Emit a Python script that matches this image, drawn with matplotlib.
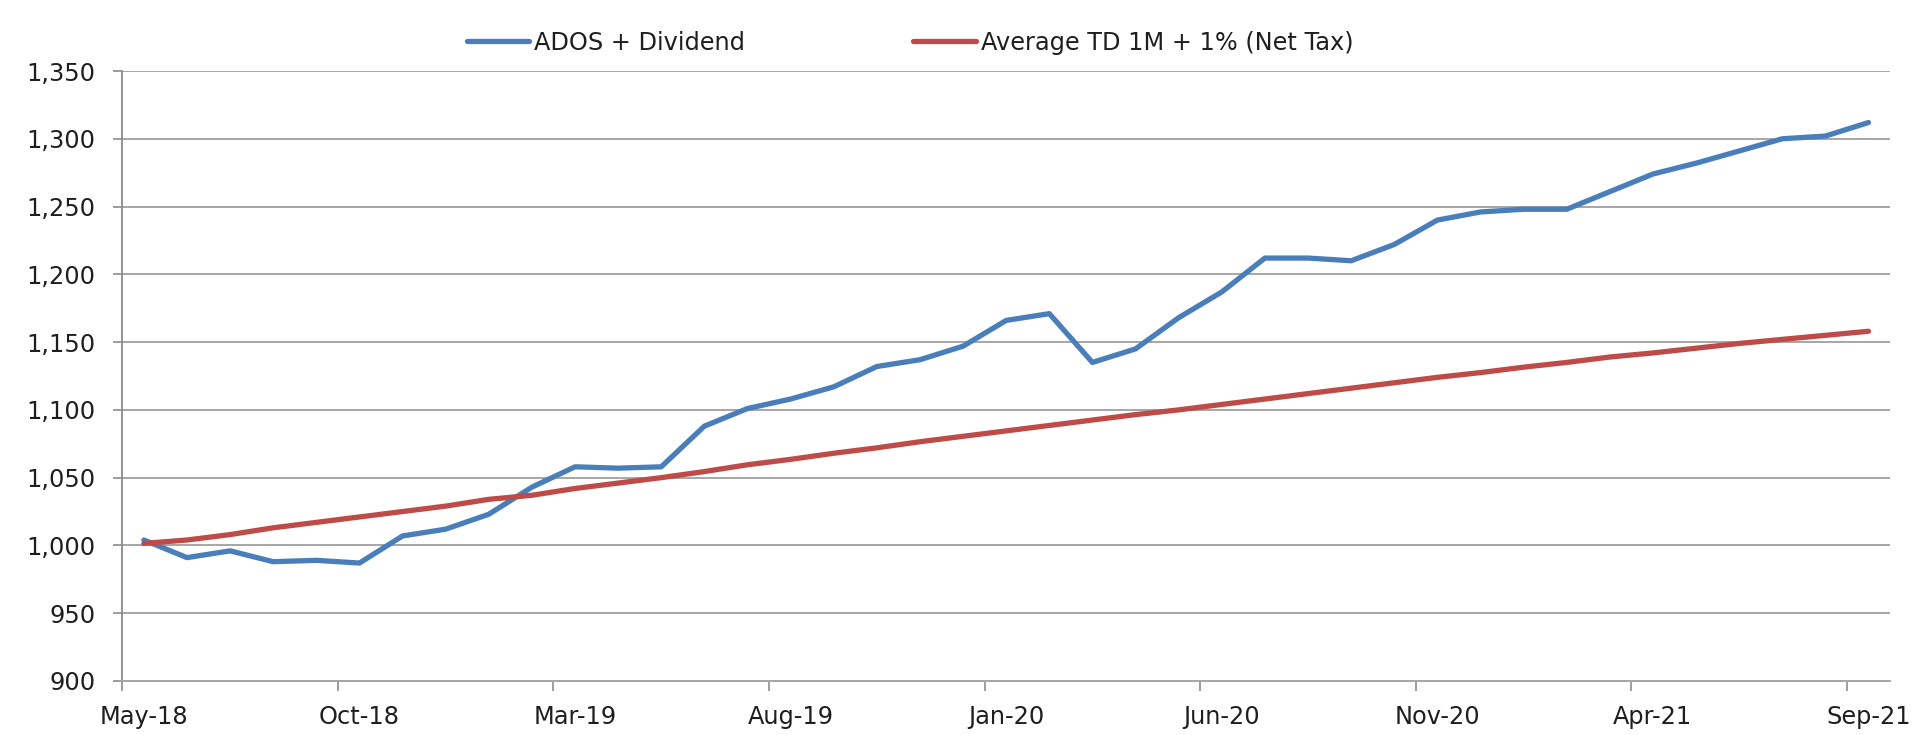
import numpy as np
import pandas as pd
import matplotlib
matplotlib.use("Agg")
import matplotlib.pyplot as plt
from matplotlib.ticker import FuncFormatter

# monthly values, May-18 .. Sep-21
months = pd.date_range("2018-05-01", "2021-09-01", freq="MS")

ados_div = [1004, 991, 996, 988, 989, 987, 1007, 1012, 1023, 1043,
            1058, 1057, 1058, 1088, 1101, 1108, 1117, 1132, 1137, 1147,
            1166, 1171, 1135, 1145, 1168, 1187, 1212, 1212, 1210, 1222,
            1240, 1246, 1248, 1248, 1261, 1274, 1282, 1291, 1300, 1302,
            1312]

avg_td = [1001.5, 1004, 1008, 1013, 1017, 1021, 1025, 1029, 1034, 1037,
          1042, 1046, 1050, 1054.5, 1059.5, 1063.5, 1068, 1072, 1076.5, 1080.5,
          1084.5, 1088.5, 1092.5, 1096.5, 1100, 1104, 1108, 1112, 1116, 1120,
          1124, 1127.5, 1131.5, 1135, 1139, 1142, 1145.5, 1149, 1152, 1155,
          1158]

tick_labels = ["May-18", "Oct-18", "Mar-19", "Aug-19", "Jan-20",
               "Jun-20", "Nov-20", "Apr-21", "Sep-21"]

blue = "#4A7EBB"
red = "#BE4B48"
grey = "#A6A6A6"
txt = "#1E1E1E"

x = np.arange(len(months))

fig = plt.figure(figsize=(19.14, 7.35), dpi=100)
ax = fig.add_axes([0.0639, 0.0735, 0.9236, 0.8299])

ax.plot(x, ados_div, color=blue, lw=3.8, solid_capstyle="round", label="ADOS + Dividend", zorder=3)
ax.plot(x, avg_td, color=red, lw=3.8, solid_capstyle="round", label="Average TD 1M + 1% (Net Tax)", zorder=3)

ax.set_xlim(-0.5, len(months) - 0.5)
ax.set_ylim(900, 1350)
ax.set_yticks(np.arange(900, 1351, 50))
ax.yaxis.set_major_formatter(FuncFormatter(lambda v, p: f"{int(v):,}"))
ax.yaxis.grid(True, color=grey, lw=1.4)
ax.set_axisbelow(True)

# labels sit in the middle of a month, tick marks on month boundaries
lab_pos = np.arange(0, len(months), 5)
ax.set_xticks(lab_pos)
ax.set_xticklabels(tick_labels)
ax.set_xticks(lab_pos - 0.5, minor=True)
ax.tick_params(axis="x", which="major", length=0, pad=17, labelsize=17.3, colors=txt)
ax.tick_params(axis="x", which="minor", length=7.2, width=1.2, color="#8C8C8C")
ax.tick_params(axis="y", length=6.5, width=1.2, color="#8C8C8C", pad=13, labelsize=17.3, labelcolor=txt)

for s in ["top", "right"]:
    ax.spines[s].set_visible(False)
ax.spines["left"].set_color("#8C8C8C")
ax.spines["left"].set_linewidth(1.3)
ax.spines["bottom"].set_color(grey)
ax.spines["bottom"].set_linewidth(1.4)

fig.legend(loc="center", bbox_to_anchor=(0.4755, 0.942), ncol=2, frameon=False,
           fontsize=17.3, handlelength=2.6, handletextpad=0.2, columnspacing=7.0,
           labelcolor=txt)

fig.savefig("out.png", dpi=100, facecolor="white")
